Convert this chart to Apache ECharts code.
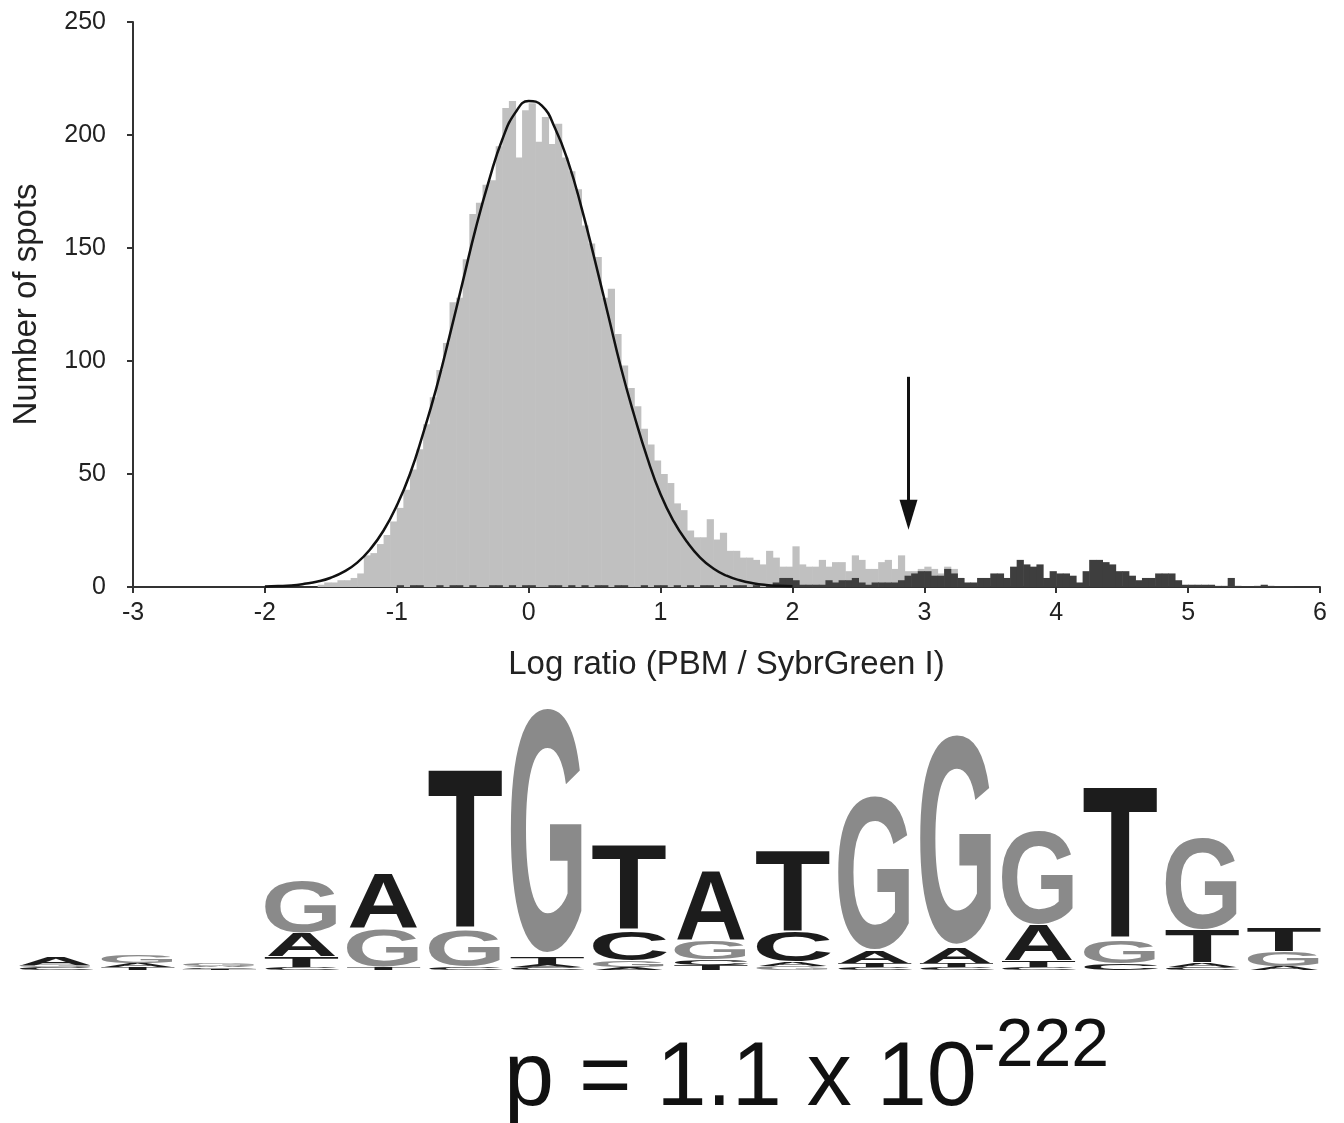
<!DOCTYPE html>
<html>
<head>
<meta charset="utf-8">
<title>PBM log ratio histogram</title>
<script src="https://cdn.jsdelivr.net/npm/echarts@6/dist/echarts.min.js"></script>
<style>
  html, body { margin: 0; padding: 0; background: #fff; }
  #main { width: 1344px; height: 1123px; }
</style>
</head>
<body>
<div id="main"></div>
<script>
// histogram bins (width 0.05), counts
const binWidth = 0.05;

// all spots, first bin starts at -1.6
const allStart = -1.6;
const allCounts = [
  1, 2, 2, 3, 3, 4, 6, 14, 15, 19,
  23, 29, 35, 43, 52, 61, 72, 84, 96, 108,
  126, 128, 145, 165, 170, 178, 180, 195, 212, 215,
  190, 211, 214, 197, 208, 196, 205, 190, 184, 176,
  160, 152, 146, 128, 132, 112, 98, 88, 80, 70,
  63, 56, 50, 46, 37, 34, 25, 22, 22, 30,
  21, 24, 16, 16, 13, 13, 12, 10, 16, 13,
  9, 9, 18, 10, 9, 9, 12, 9, 11, 11,
  7, 14, 12, 8, 8, 11, 12, 8, 14, 7,
  7, 8, 9, 8, 6, 9, 8, 4
];

// bound spots, first bin starts at -1.0
const boundStart = -1.0;
const boundCounts = [
  0.8, 0, 0.8, 0.8, 0, 0, 0.8, 0, 0.8, 0.8,
  0, 0.8, 0, 0, 0.8, 0.8, 0, 0.8, 0, 0.8,
  0.8, 0, 0, 0.8, 0.8, 0, 0.8, 0, 0.8, 0,
  0.8, 0.8, 0, 0.8, 0.8, 0, 0, 0.8, 0, 0.8,
  0.8, 0, 0.8, 0, 0.8, 0, 0.8, 0.8, 0, 0.8,
  0, 0.8, 0.8, 0, 0.8, 0, 0.8,
  2, 4, 4, 3, 1, 1, 1, 1, 3, 2,
  3, 3, 4, 2, 1, 2, 2, 2, 2, 3,
  5, 6, 7, 7, 5, 5, 8, 6, 4, 2,
  2, 4, 4, 6, 6, 4, 9, 12, 10, 9,
  10, 4, 7, 6, 6, 5, 2, 7, 12, 12,
  11, 10, 7, 7, 5, 3, 4, 4, 6, 6,
  6, 3, 1, 1, 1, 1, 1, 0.5, 0.5, 4,
  0.5, 0.3, 0.3, 0.5, 1, 0.5, 0.3, 0.3, 0.2
];

// fitted normal curve, read at 0.1 steps
const fitX = [
  -2.0, -1.9, -1.8, -1.7, -1.6, -1.5, -1.4, -1.3, -1.2, -1.1,
  -1.0, -0.9, -0.8, -0.7, -0.6, -0.5, -0.4, -0.3, -0.2, -0.1,
  0.0, 0.1, 0.2, 0.3, 0.4, 0.5, 0.6, 0.7, 0.8, 0.9,
  1.0, 1.1, 1.2, 1.3, 1.4, 1.5, 1.6, 1.7, 1.8, 1.9, 2.0
];
const fitY = [
  0.2, 0.4, 0.7, 1.4, 2.4, 4.1, 6.8, 10.8, 16.8, 25,
  36, 50, 68, 88, 111, 135, 159, 180, 198, 210,
  215, 213, 203, 188, 168, 145, 121, 97, 76, 57,
  41, 29, 20, 13, 8.2, 5, 3, 1.7, 0.9, 0.5, 0.3
];

// arrow marking the cutoff
const arrowX = 2.88;
const arrowTop = 93;
const arrowEnd = 32;

// sequence logo, one stack per position, bottom to top: [letter, bits]
const logoStacks = [
  [['C', 0.02], ['G', 0.02], ['A', 0.06]],
  [['T', 0.02], ['A', 0.03], ['G', 0.06]],
  [['T', 0.01], ['C', 0.01], ['A', 0.01], ['G', 0.02]],
  [['C', 0.02], ['T', 0.08], ['A', 0.18], ['G', 0.40]],
  [['T', 0.02], ['G', 0.29], ['A', 0.43]],
  [['C', 0.02], ['G', 0.27], ['T', 1.25]],
  [['C', 0.02], ['A', 0.02], ['T', 0.06], ['G', 1.89]],
  [['A', 0.02], ['G', 0.05], ['C', 0.22], ['T', 0.66]],
  [['T', 0.04], ['C', 0.04], ['G', 0.14], ['A', 0.54]],
  [['G', 0.03], ['A', 0.03], ['C', 0.23], ['T', 0.63]],
  [['C', 0.02], ['T', 0.03], ['A', 0.09], ['G', 1.19]],
  [['C', 0.02], ['T', 0.03], ['A', 0.12], ['G', 1.62]],
  [['C', 0.02], ['T', 0.05], ['A', 0.27], ['G', 0.73]],
  [['C', 0.05], ['G', 0.17], ['T', 1.19]],
  [['C', 0.02], ['A', 0.03], ['T', 0.25], ['G', 0.71]],
  [['A', 0.03], ['G', 0.11], ['T', 0.18]]
];

const FONT = '"Liberation Sans", Arial, Helvetica, sans-serif';
const letterColor = { A: '#1c1c1c', C: '#1c1c1c', G: '#8a8a8a', T: '#1c1c1c' };
// approximate ink width of each bold glyph, in em
const letterInk = { A: 0.72, C: 0.64, G: 0.69, T: 0.58 };
const CAP = 0.716;
const DESC = 0.20;

const allData = allCounts.map((c, i) => [allStart + i * binWidth, c]);
const boundData = boundCounts.map((c, i) => [boundStart + i * binWidth, c]);
const fitData = fitX.map((x, i) => [x, fitY[i]]);

const logoItems = [];
logoStacks.forEach((stack, col) => {
  let y = 0;
  stack.forEach(([letter, h]) => {
    logoItems.push({ col: col + 1, y0: y, y1: y + h, letter });
    y += h;
  });
});

function histRender(color) {
  return function (params, api) {
    const x0 = api.value(0);
    const v = api.value(1);
    if (!v) return null;
    const p0 = api.coord([x0, 0]);
    const p1 = api.coord([x0 + binWidth, v]);
    return {
      type: 'rect',
      shape: { x: p0[0], y: p1[1], width: p1[0] - p0[0] + 0.6, height: p0[1] - p1[1] },
      style: { fill: color }
    };
  };
}

function logoRender(params, api) {
  const it = logoItems[params.dataIndex];
  const pad = 0.06;
  const pb = api.coord([it.col - 0.5 + pad, it.y0]);
  const pt = api.coord([it.col + 0.5 - pad, it.y1]);
  const F = 100;
  const hPx = pb[1] - pt[1];
  const wPx = pt[0] - pb[0];
  const sy = hPx / (CAP * F);
  const sx = wPx / (letterInk[it.letter] * F);
  return {
    type: 'text',
    x: (pb[0] + pt[0]) / 2,
    y: pb[1] + sy * DESC * F,
    scaleX: sx,
    scaleY: sy,
    style: {
      text: it.letter,
      font: 'bold 100px ' + FONT,
      fill: letterColor[it.letter],
      align: 'center',
      verticalAlign: 'bottom'
    }
  };
}

const chart = echarts.init(document.getElementById('main'));

chart.setOption({
  animation: false,
  backgroundColor: '#fff',
  textStyle: { fontFamily: FONT },
  grid: [
    { left: 133, right: 24, top: 22, height: 565 },
    { left: 15, right: 19, top: 710, height: 260 }
  ],
  xAxis: [
    {
      type: 'value',
      gridIndex: 0,
      min: -3,
      max: 6,
      interval: 1,
      name: 'Log ratio (PBM / SybrGreen I)',
      nameLocation: 'middle',
      nameGap: 61,
      nameTextStyle: { fontSize: 33, color: '#222', fontFamily: FONT },
      axisLine: { onZero: false, lineStyle: { color: '#333', width: 2 } },
      axisTick: { length: 6, lineStyle: { color: '#333', width: 2 } },
      axisLabel: { fontSize: 25, color: '#222', margin: 14, fontFamily: FONT },
      splitLine: { show: false }
    },
    {
      type: 'value',
      gridIndex: 1,
      min: 0.5,
      max: 16.5,
      show: false
    }
  ],
  yAxis: [
    {
      type: 'value',
      gridIndex: 0,
      min: 0,
      max: 250,
      interval: 50,
      name: 'Number of spots',
      nameLocation: 'middle',
      nameGap: 90,
      nameTextStyle: { fontSize: 33, color: '#222', fontFamily: FONT },
      axisLine: { show: true, onZero: false, lineStyle: { color: '#333', width: 2 } },
      axisTick: { show: true, length: 6, lineStyle: { color: '#333', width: 2 } },
      axisLabel: { fontSize: 25, color: '#222', margin: 27, fontFamily: FONT },
      splitLine: { show: false }
    },
    {
      type: 'value',
      gridIndex: 1,
      min: 0,
      max: 2,
      show: false
    }
  ],
  series: [
    {
      type: 'custom',
      name: 'All spots',
      xAxisIndex: 0,
      yAxisIndex: 0,
      renderItem: histRender('#c0c0c0'),
      encode: { x: 0, y: 1 },
      data: allData,
      z: 1
    },
    {
      type: 'custom',
      name: 'Bound spots',
      xAxisIndex: 0,
      yAxisIndex: 0,
      renderItem: histRender('#3e3e3e'),
      encode: { x: 0, y: 1 },
      data: boundData,
      z: 2
    },
    {
      type: 'line',
      name: 'Normal fit',
      xAxisIndex: 0,
      yAxisIndex: 0,
      data: fitData,
      smooth: true,
      showSymbol: false,
      lineStyle: { color: '#111', width: 2.5 },
      z: 3,
      markLine: {
        silent: true,
        symbol: ['none', 'triangle'],
        symbolSize: [18, 30],
        label: { show: false },
        lineStyle: { color: '#111', width: 3, type: 'solid' },
        itemStyle: { color: '#111' },
        data: [[{ coord: [arrowX, arrowTop] }, { coord: [arrowX, arrowEnd] }]]
      }
    },
    {
      type: 'custom',
      name: 'Logo',
      xAxisIndex: 1,
      yAxisIndex: 1,
      renderItem: logoRender,
      data: logoItems.map(it => [it.col, it.y0, it.y1]),
      z: 4
    }
  ],
  graphic: [
    {
      type: 'text',
      x: 504,
      y: 1125,
      style: {
        text: 'p = 1.1 x 10',
        font: '90px ' + FONT,
        fill: '#111',
        align: 'left',
        verticalAlign: 'bottom'
      }
    },
    {
      type: 'text',
      x: 973,
      y: 1081,
      style: {
        text: '-222',
        font: '68px ' + FONT,
        fill: '#111',
        align: 'left',
        verticalAlign: 'bottom'
      }
    }
  ]
});
</script>
</body>
</html>
